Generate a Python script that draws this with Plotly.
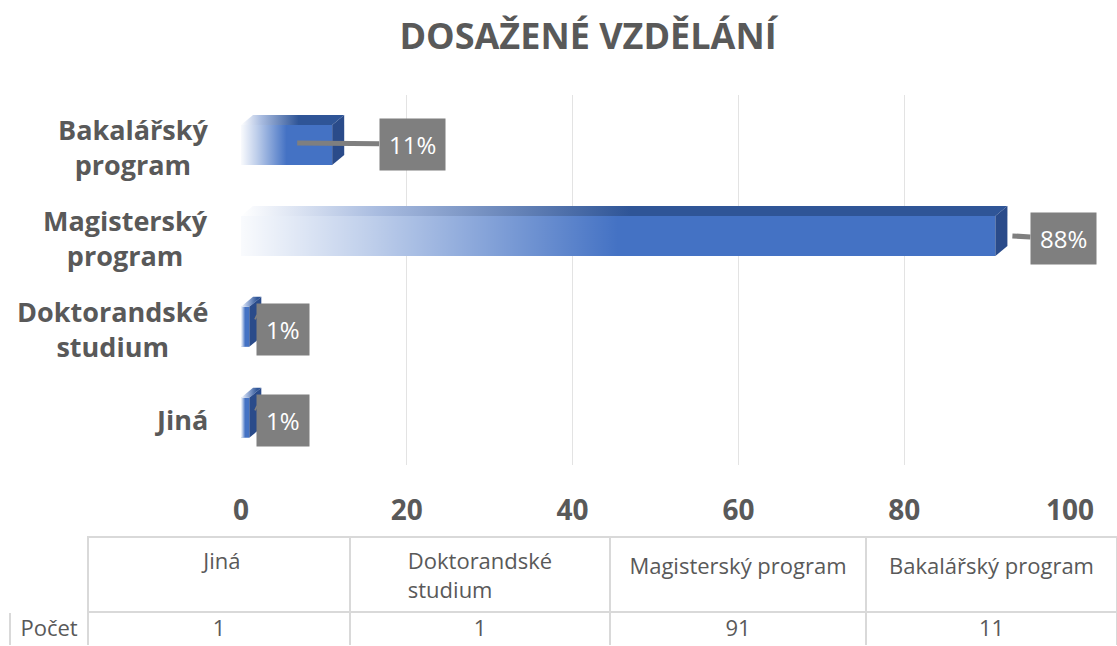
import plotly.graph_objects as go

# ---------------- data ----------------
categories = ["Jiná", "Doktorandské studium", "Magisterský program", "Bakalářský program"]
axis_labels = ["Jiná", "Doktorandské<br>studium", "Magisterský<br>program", "Bakalářský<br>program"]
table_headers = ["<br> Jiná", "Doktorandské<br>studium", "<br>Magisterský program", "<br>Bakalářský program"]
counts = [1, 1, 91, 11]
row_label = "Počet"
title_text = "DOSAŽENÉ VZDĚLÁNÍ"
x_ticks = [0, 20, 40, 60, 80, 100]

total = sum(counts)
pct_labels = [f"{round(100 * c / total)}%" for c in counts]

# ---------------- layout constants ----------------
W, H = 1117, 646
FONT = "Open Sans"
GREY = "#595959"
BLUE = "#4472C4"
TOP = "#2F5597"
SIDE = "#2A4B8A"
h = 0.22      # half bar thickness (category units)
dx = 1.45     # 3D depth along x (value units)
dy = 0.11     # 3D depth along y (category units)

# callout placement (pixels): tip shift from bar end, text offset from tip
callout_xshift = [6, 6, 17, -35]
callout_yshift = [10, 10, 0, 2]
callout_ax = [28, 28, 51, 115]
callout_ay = [13, 13, 3, 1]

pos = list(range(len(categories)))

fig = go.Figure()

# front faces (bars)
fig.add_trace(go.Bar(
    x=counts, y=pos, orientation="h", width=2 * h,
    marker=dict(color=BLUE, line=dict(width=0)),
    hoverinfo="skip", showlegend=False,
))

for p, v in zip(pos, counts):
    # white fade on the front face
    fig.add_trace(go.Scatter(
        x=[0, v, v, 0, 0], y=[p - h, p - h, p + h, p + h, p - h],
        mode="lines", line=dict(width=0), fill="toself",
        fillgradient=dict(type="horizontal",
                          colorscale=[[0, "rgba(255,255,255,0.97)"],
                                      [0.35, "rgba(255,255,255,0.65)"],
                                      [1, "rgba(255,255,255,0)"]],
                          start=0, stop=0.5 * v),
        hoverinfo="skip", showlegend=False,
    ))
    # top face
    fig.add_trace(go.Scatter(
        x=[0, v, v + dx, dx, 0], y=[p + h, p + h, p + h + dy, p + h + dy, p + h],
        mode="lines", line=dict(width=0), fill="toself",
        fillgradient=dict(type="horizontal",
                          colorscale=[[0, "rgba(255,255,255,1)"],
                                      [0.35, "#A9BCE0"],
                                      [1, TOP]],
                          start=0, stop=0.5 * v + dx),
        hoverinfo="skip", showlegend=False,
    ))
    # end face
    fig.add_trace(go.Scatter(
        x=[v, v + dx, v + dx, v, v], y=[p - h, p - h + dy, p + h + dy, p + h, p - h],
        mode="lines", line=dict(width=0), fill="toself", fillcolor=SIDE,
        hoverinfo="skip", showlegend=False,
    ))

# data table
fig.add_trace(go.Table(
    domain=dict(x=[10 / W, 1], y=[0, 1 - 537 / H]),
    columnwidth=[78, 262, 260, 256, 251],
    header=dict(
        values=[""] + table_headers,
        fill_color="white",
        line=dict(color=["white"] + ["#D9D9D9"] * 4, width=2),
        font=dict(family=FONT, size=22, color=GREY),
        align="center", height=66,
    ),
    cells=dict(
        values=[[row_label]] + [[str(c)] for c in counts],
        fill_color="white",
        line=dict(color="#D9D9D9", width=2),
        font=dict(family=FONT, size=22, color=GREY),
        align="center", height=38,
    ),
))

annotations = []
# category labels (centered multi-line, like the reference)
for p, lab in zip(pos, axis_labels):
    annotations.append(dict(
        x=210 / W, xref="paper", xanchor="right",
        y=p, yref="y", yanchor="middle", yshift=-2,
        text=lab, align="center", showarrow=False,
        font=dict(family=FONT, size=27, color=GREY, weight="bold"),
    ))
# percentage callouts
for i, (p, v) in enumerate(zip(pos, counts)):
    annotations.append(dict(
        x=v, y=p, xref="x", yref="y",
        xshift=callout_xshift[i], yshift=callout_yshift[i],
        text=pct_labels[i], showarrow=True,
        ax=callout_ax[i], ay=callout_ay[i],
        arrowhead=0, arrowwidth=5, arrowcolor="#7F7F7F", standoff=0,
        bgcolor="#7F7F7F", borderpad=9,
        font=dict(family=FONT, size=24, color="white"),
    ))

fig.update_layout(
    width=W, height=H,
    margin=dict(l=0, r=0, t=0, b=0, autoexpand=False),
    paper_bgcolor="white", plot_bgcolor="white",
    title=dict(text=title_text, x=588 / W, xanchor="center", y=1 - 36 / H, yanchor="middle",
               font=dict(family=FONT, size=36, color=GREY, weight="bold")),
    xaxis=dict(
        domain=[241 / W, 1070 / W], range=[0, 100],
        tickvals=x_ticks, showgrid=True, gridcolor="#E3E3E3", gridwidth=1,
        zeroline=False, showline=False, ticks="", automargin=False,
        ticklabelstandoff=26,
        tickfont=dict(family=FONT, size=28, color=GREY, weight="bold"),
    ),
    yaxis=dict(
        domain=[1 - 465 / H, 1 - 95 / H], range=[-0.52, 3.55], automargin=False,
        showgrid=False, zeroline=False, showticklabels=False, showline=False,
    ),
    annotations=annotations,
    showlegend=False,
)

fig.write_html("out.html", config={"displayModeBar": False},
               post_script="document.body.style.margin='0px';")
